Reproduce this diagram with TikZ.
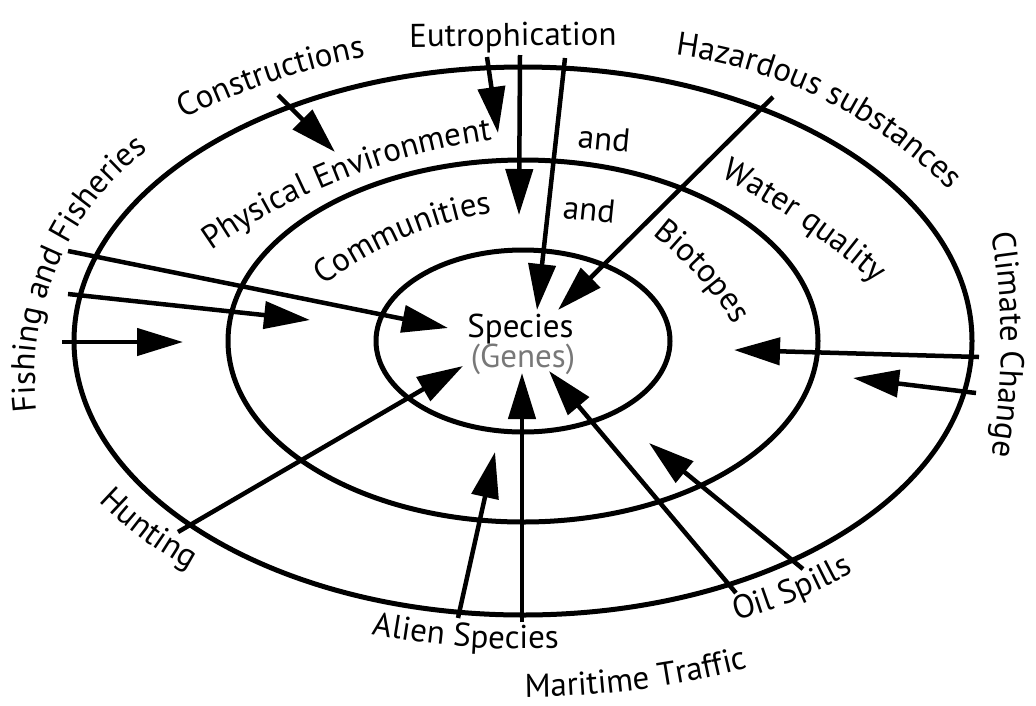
\documentclass[tikz,border=0pt]{standalone}
\usepackage{fontspec}
\setmainfont{PT Sans}
\usetikzlibrary{arrows.meta,decorations.text}
\newcommand{\lbl}{\fontsize{33}{40}\selectfont}
\newcommand{\ringtext}[6]{%
  \pgfmathsetmacro{\rtA}{#4-(#5)}%
  \pgfmathsetmacro{\rtB}{#4+(#5)}%
  \path[decorate, decoration={text along path, text={|\lbl|#6}, text align=center}]
    ([shift={(\rtA:#3)}]#1,#2) arc[start angle=\rtA, end angle=\rtB, radius=#3];
}
\definecolor{genegray}{RGB}{120,120,120}
\begin{document}
\begin{tikzpicture}[x=1pt,y=-1pt,
  ring/.style={line width=5pt},
  arr/.style={line width=4.5pt,-{Triangle[length=46pt,width=27pt]}},
  word/.style={font=\lbl,inner sep=0pt,anchor=base}]
\useasboundingbox (0,0) rectangle (1036,705);
\coordinate (cen) at (523,341);
\draw[ring] (cen) ellipse [x radius=449, y radius=274];
\draw[ring] (cen) ellipse [x radius=295, y radius=181];
\draw[ring] (cen) ellipse [x radius=147, y radius=91];

% arrow end points
\coordinate (con-s) at (278,95);  \coordinate (con-e) at (335,152);
\coordinate (eu1-s) at (487,57);  \coordinate (eu1-e) at (498,133);
\coordinate (eu2-s) at (520,55);  \coordinate (eu2-e) at (519,215);
\coordinate (eu3-s) at (565,58);  \coordinate (eu3-e) at (537,310);
\coordinate (haz-s) at (773,97);  \coordinate (haz-e) at (558,310);
\coordinate (fi1-s) at (68,251);  \coordinate (fi1-e) at (448,328);
\coordinate (fi2-s) at (68,294);  \coordinate (fi2-e) at (310,320);
\coordinate (fi3-s) at (62,342);  \coordinate (fi3-e) at (183,342);
\coordinate (hun-s) at (178,532); \coordinate (hun-e) at (463,366);
\coordinate (ali-s) at (458,618); \coordinate (ali-e) at (495,452);
\coordinate (mar-s) at (522,622); \coordinate (mar-e) at (522,373);
\coordinate (oi1-s) at (736,593); \coordinate (oi1-e) at (549,371);
\coordinate (oi2-s) at (803,569); \coordinate (oi2-e) at (649,443);
\coordinate (cl1-s) at (979,357); \coordinate (cl1-e) at (734,350);
\coordinate (cl2-s) at (976,393); \coordinate (cl2-e) at (853,378);

\foreach \a in {con,eu1,eu2,eu3,haz,fi1,fi2,fi3,hun,ali,mar,oi1,oi2,cl1,cl2}
  \draw[arr] (\a-s) -- (\a-e);

% centre
\node[word] (species) at (520.5,337) {Species};
\node[word,text=genegray] (genes) at (523,367) {(Genes)};

% straight labels
\node[word,rotate=0.6] (eutro) at (513,46) {Eutrophication};
\node[word,rotate=-5.5] (and1) at (603,150) {and};
\node[word,rotate=-6] (and2) at (588,221) {and};

% curved labels: centre x, centre y, radius, mid angle, half span (neg = counter-clockwise)
\ringtext{320}{377}{285}{-157}{36}{Fishing and Fisheries}
\ringtext{496}{745}{700}{-108.6}{12}{Constructions}
\ringtext{615}{522}{471}{-63.7}{24}{Hazardous substances}
\ringtext{336}{345}{665}{0}{14}{Climate Change}
\ringtext{381}{218}{400}{126.7}{-13}{Hunting}
\ringtext{525}{-151}{800}{94.3}{-10}{Alien Species}
\ringtext{523}{-203}{900}{82.7}{-10}{Maritime Traffic}
\ringtext{605}{138}{500}{67.5}{-11}{Oil Spills}
\ringtext{580}{778}{644}{-111.4}{18}{Physical Environment}
\ringtext{347}{884}{800}{-55.4}{10}{Water quality}
\ringtext{438}{511}{350}{-42.2}{15}{Biotopes}
\ringtext{553}{588}{380}{-113.2}{19}{Communities}
\end{tikzpicture}
\end{document}
